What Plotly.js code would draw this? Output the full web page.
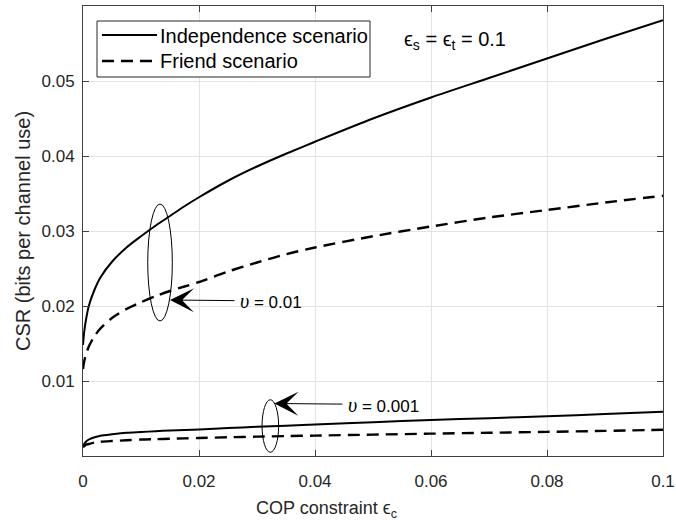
<!DOCTYPE html>
<html>
<head>
<meta charset="utf-8">
<script src="https://cdn.plot.ly/plotly-3.0.1.min.js"></script>
<style>html,body{margin:0;padding:0;background:#fff;}#chart{width:676px;height:527px;}</style>
</head>
<body>
<div id="chart"></div>
<script>
// COP constraint epsilon_c
const copConstraint = [0, 0.0002, 0.0005, 0.001, 0.002, 0.003, 0.005, 0.0075, 0.01, 0.0125, 0.015, 0.0175, 0.02, 0.025, 0.03, 0.035, 0.04, 0.05, 0.06, 0.07, 0.08, 0.09, 0.1];
// CSR, upsilon = 0.01
const independenceV01 = [0.0148, 0.0165, 0.0181, 0.0200, 0.0222, 0.0238, 0.0259, 0.0278, 0.0293, 0.0307, 0.0320, 0.0333, 0.0345, 0.0367, 0.0386, 0.0403, 0.0419, 0.0450, 0.0478, 0.0504, 0.0530, 0.0556, 0.0581];
const friendV01 = [0.0116, 0.0126, 0.0135, 0.0146, 0.0160, 0.0170, 0.0184, 0.0196, 0.0205, 0.0213, 0.0220, 0.0226, 0.0232, 0.0246, 0.0258, 0.0269, 0.0278, 0.0293, 0.0306, 0.0318, 0.0328, 0.0338, 0.0347];
// CSR, upsilon = 0.001
const independenceV001 = [0.0014, 0.0016, 0.0019, 0.0022, 0.0025, 0.0027, 0.0029, 0.0031, 0.0032, 0.0033, 0.0034, 0.00347, 0.00355, 0.00373, 0.0039, 0.00405, 0.0042, 0.0045, 0.0048, 0.00505, 0.0053, 0.0056, 0.0059];
const friendV001 = [0.0012, 0.0013, 0.0015, 0.0016, 0.0018, 0.0019, 0.0020, 0.0021, 0.0022, 0.00225, 0.0023, 0.00235, 0.0024, 0.0025, 0.00258, 0.00265, 0.00272, 0.00285, 0.00298, 0.0031, 0.00322, 0.00335, 0.0035];

const xTickVals = [0, 0.02, 0.04, 0.06, 0.08, 0.1];
const xTickText = ['0', '0.02', '0.04', '0.06', '0.08', '0.1'];
const yTickVals = [0.01, 0.02, 0.03, 0.04, 0.05, 0.06];
const yTickText = ['0.01', '0.02', '0.03', '0.04', '0.05', '0.06'];

const legendNames = ['Independence scenario', 'Friend scenario'];
const paramText = 'ϵ<sub>s</sub> = ϵ<sub>t</sub> = 0.1';
const upsilonValues = ['0.01', '0.001'];
// ellipses grouping curves (center x, center y, half-width, half-height) in data units
const groupEllipses = [[0.01328, 0.0258, 0.00212, 0.0078], [0.0323, 0.0040, 0.00143, 0.0035]];
// arrow tips in data units
const arrowTips = [[0.0150, 0.0208], [0.0330, 0.0070]];

const L = 83, R = 663, T = 6, B = 456;
const px = x => (x - L) / (R - L);
const py = y => (B - y) / (B - T);

const dashPat = '12px,7px';
const solidLine = {color: '#000', width: 2, shape: 'spline', smoothing: 0.8};
const dashLine = {color: '#000', width: 2.4, dash: dashPat, shape: 'spline', smoothing: 0.8};

const traces = [
  {x: copConstraint, y: independenceV01, mode: 'lines', line: solidLine, name: legendNames[0]},
  {x: copConstraint, y: friendV01, mode: 'lines', line: dashLine, name: legendNames[1]},
  {x: copConstraint, y: independenceV001, mode: 'lines', line: solidLine, name: legendNames[0]},
  {x: copConstraint, y: friendV001, mode: 'lines', line: dashLine, name: legendNames[1]}
];

const shapes = groupEllipses.map(e => ({
  type: 'circle', xref: 'x', yref: 'y',
  x0: e[0] - e[2], x1: e[0] + e[2], y0: e[1] - e[3], y1: e[1] + e[3],
  line: {color: '#000', width: 1}
}));
// manual legend
shapes.push({type: 'rect', xref: 'paper', yref: 'paper', x0: px(97), x1: px(370), y0: py(77), y1: py(21), line: {color: '#262626', width: 1}, fillcolor: '#fff', layer: 'above'});
shapes.push({type: 'line', xref: 'paper', yref: 'paper', x0: px(102), x1: px(157), y0: py(35), y1: py(35), line: {color: '#000', width: 2}});
shapes.push({type: 'line', xref: 'paper', yref: 'paper', x0: px(102), x1: px(157), y0: py(61), y1: py(61), line: {color: '#000', width: 2.4, dash: dashPat}});

const fontFam = 'Liberation Sans, Arial, sans-serif';
const annotations = [
  {xref: 'paper', yref: 'paper', x: px(158), y: py(36), xanchor: 'left', yanchor: 'middle', text: legendNames[0], showarrow: false, font: {family: fontFam, size: 20, color: '#000'}},
  {xref: 'paper', yref: 'paper', x: px(158), y: py(61), xanchor: 'left', yanchor: 'middle', text: legendNames[1], showarrow: false, font: {family: fontFam, size: 20, color: '#000'}},
  {xref: 'paper', yref: 'paper', x: px(402), y: py(41), xanchor: 'left', yanchor: 'middle', text: paramText, showarrow: false, font: {family: fontFam, size: 20, color: '#000'}},
  {xref: 'paper', yref: 'paper', x: px(254), y: py(509), xanchor: 'left', yanchor: 'middle', text: 'COP constraint ϵ<sub>c</sub>', showarrow: false, font: {family: fontFam, size: 18, color: '#262626'}}
];
upsilonValues.forEach((v, i) => {
  annotations.push({
    xref: 'x', yref: 'y', x: arrowTips[i][0], y: arrowTips[i][1],
    ax: i === 0 ? 101 : 109, ay: 1,
    text: '<span style="font-family:Liberation Serif;font-style:italic;font-size:20px">υ</span> = ' + v,
    showarrow: true, arrowhead: 3, arrowsize: 4, arrowwidth: 1, arrowcolor: '#000', borderpad: 5,
    font: {family: fontFam, size: 17, color: '#000'}
  });
});

const axisCommon = {
  showline: true, linecolor: '#404040', linewidth: 1, mirror: 'ticks',
  ticks: 'inside', ticklen: 6, tickcolor: '#404040', tickwidth: 1,
  showgrid: true, gridcolor: '#e3e3e3', gridwidth: 1, zeroline: false,
  tickfont: {family: fontFam, size: 17, color: '#262626'}
};

const layout = {
  width: 676, height: 527,
  margin: {l: L, r: 676 - R, t: T, b: 527 - B},
  paper_bgcolor: '#fff', plot_bgcolor: '#fff',
  showlegend: false,
  xaxis: Object.assign({}, axisCommon, {range: [0, 0.1], tickvals: xTickVals, ticktext: xTickText, ticklabelstandoff: 10}),
  yaxis: Object.assign({}, axisCommon, {range: [0, 0.06], tickvals: yTickVals, ticktext: yTickText, ticklabelstandoff: 4,
    title: {text: 'CSR (bits per channel use)', font: {family: fontFam, size: 20, color: '#262626'}, standoff: 5}}),
  shapes: shapes,
  annotations: annotations
};

Plotly.newPlot('chart', traces, layout, {displayModeBar: false, staticPlot: true});
</script>
</body>
</html>
